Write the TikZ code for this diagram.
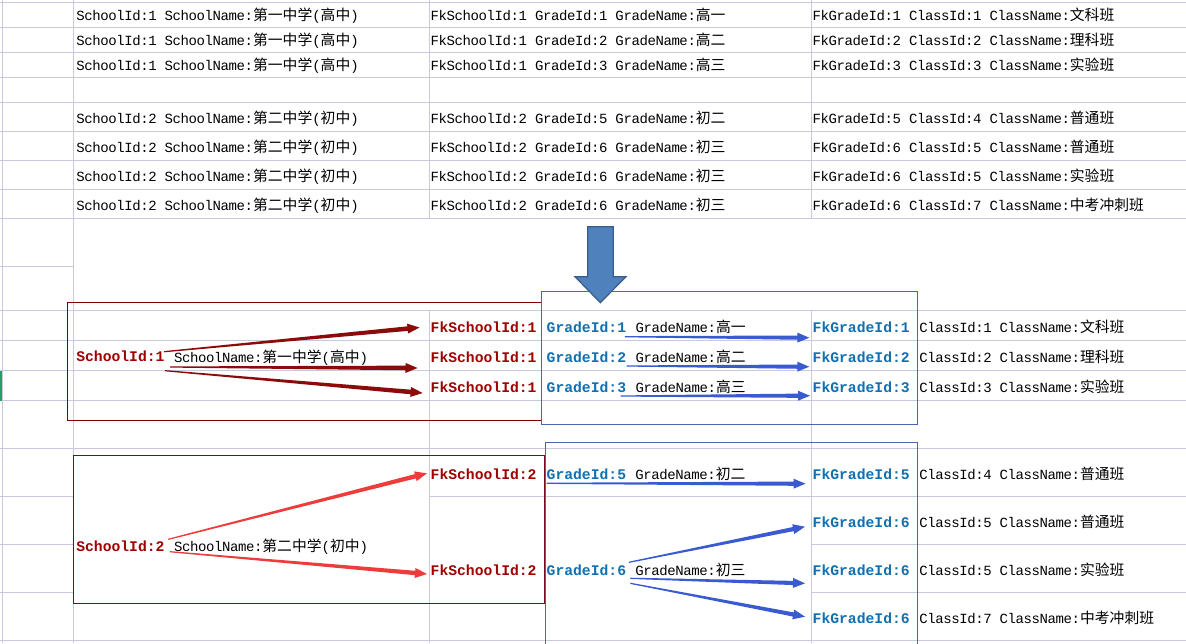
\documentclass[tikz,border=0pt]{standalone}
\usepackage{fontspec}
\usetikzlibrary{calc}
\newfontfamily\mono{Liberation Mono}[LetterSpace=-2.86]
\newfontfamily\bmono{Liberation Mono}
\newfontfamily\cjk{Noto Sans CJK SC}[Scale=1.057]
\newcommand\cn[1]{{\cjk #1}}
\definecolor{gridc}{RGB}{200,200,222}
\definecolor{idred}{HTML}{A00000}
\definecolor{idblue}{HTML}{1070B0}
\definecolor{dred}{HTML}{8B0A0A}
\definecolor{lred}{HTML}{EE3B3B}
\definecolor{arrblue}{HTML}{3A5BD0}
\definecolor{boxred}{HTML}{7A0000}
\definecolor{boxred2}{HTML}{7A0A1E}
\definecolor{boxblue}{HTML}{4A66AC}
\definecolor{bigfill}{HTML}{4F81BD}
\definecolor{bigdraw}{HTML}{385D8A}
\definecolor{selgreen}{HTML}{1FA067}
% tapered arrow: #1 colour, #2 start, #3 tip, #4 shaft half-width at head
\newcommand\tarrow[4]{%
  \fill[#1] ($(#2)!0.6pt!90:(#3)$) -- ($(#3)!12pt!(#2)!#4!-90:(#2)$) -- ($(#3)!12pt!(#2)!5pt!-90:(#2)$) -- (#3) -- ($(#3)!12pt!(#2)!5pt!90:(#2)$) -- ($(#3)!12pt!(#2)!#4!90:(#2)$) -- ($(#2)!0.6pt!-90:(#3)$) -- cycle;}
\tikzset{
  gridline/.style={draw=gridc, line width=1pt},
  txt/.style={anchor=base west, inner sep=0pt, outer sep=0pt, font={\mono\fontsize{14}{16}\selectfont}, text=black},
  rid/.style={txt, font={\bmono\bfseries\fontsize{14.7}{17}\selectfont}, text=idred, text height=10pt, text depth=0pt},
  bid/.style={rid, text=idblue},
  redbox/.style={draw=boxred, line width=1pt},
  bluebox/.style={draw=boxblue, line width=1pt},
}
\begin{document}
\begin{tikzpicture}[x=1pt,y=-1pt]
\useasboundingbox (0,0) rectangle (1186,643);
\fill[white] (0,0) rectangle (1186,643);
% ---------- grid ----------
\foreach \y in {2.7,27.3,52.3,77.3,102.7,131.3,160.3,189.3,218.3,310.7,340.7,370.7,400.7,448.3,640.7}
  \draw[gridline] (0,\y) -- (1186,\y);
\foreach \y in {266.7,496,544.3,592.7}
  \draw[gridline] (0,\y) -- (73,\y);
\draw[gridline] (429,496) -- (1186,496);
\foreach \y in {544.3,592.7}
  \draw[gridline] (811,\y) -- (1186,\y);
\draw[gridline] (2,0) -- (2,643);
\draw[gridline] (73,0) -- (73,643);
\foreach \x in {429,811}{
  \draw[gridline] (\x,0) -- (\x,218.3);
  \draw[gridline] (\x,310.7) -- (\x,643);
}
\fill[selgreen] (0,370.7) rectangle (2,400.7);
% ---------- top table ----------
\node[txt] (t1b) at (76.3,20) {SchoolId:1 SchoolName:\cn{第一中学}(\cn{高中})};
\node[txt] (t2b) at (76.3,45) {SchoolId:1 SchoolName:\cn{第一中学}(\cn{高中})};
\node[txt] (t3b) at (76.3,70) {SchoolId:1 SchoolName:\cn{第一中学}(\cn{高中})};
\node[txt] (t5b) at (76.3,123.5) {SchoolId:2 SchoolName:\cn{第二中学}(\cn{初中})};
\node[txt] (t6b) at (76.3,152) {SchoolId:2 SchoolName:\cn{第二中学}(\cn{初中})};
\node[txt] (t7b) at (76.3,181) {SchoolId:2 SchoolName:\cn{第二中学}(\cn{初中})};
\node[txt] (t8b) at (76.3,210) {SchoolId:2 SchoolName:\cn{第二中学}(\cn{初中})};
\node[txt] (t1c) at (430.7,20) {FkSchoolId:1 GradeId:1 GradeName:\cn{高一}};
\node[txt] (t2c) at (430.7,45) {FkSchoolId:1 GradeId:2 GradeName:\cn{高二}};
\node[txt] (t3c) at (430.7,70) {FkSchoolId:1 GradeId:3 GradeName:\cn{高三}};
\node[txt] (t5c) at (430.7,123.5) {FkSchoolId:2 GradeId:5 GradeName:\cn{初二}};
\node[txt] (t6c) at (430.7,152) {FkSchoolId:2 GradeId:6 GradeName:\cn{初三}};
\node[txt] (t7c) at (430.7,181) {FkSchoolId:2 GradeId:6 GradeName:\cn{初三}};
\node[txt] (t8c) at (430.7,210) {FkSchoolId:2 GradeId:6 GradeName:\cn{初三}};
\node[txt] (t1d) at (812.7,20) {FkGradeId:1 ClassId:1 ClassName:\cn{文科班}};
\node[txt] (t2d) at (812.7,45) {FkGradeId:2 ClassId:2 ClassName:\cn{理科班}};
\node[txt] (t3d) at (812.7,70) {FkGradeId:3 ClassId:3 ClassName:\cn{实验班}};
\node[txt] (t5d) at (812.7,123.5) {FkGradeId:5 ClassId:4 ClassName:\cn{普通班}};
\node[txt] (t6d) at (812.7,152) {FkGradeId:6 ClassId:5 ClassName:\cn{普通班}};
\node[txt] (t7d) at (812.7,181) {FkGradeId:6 ClassId:5 ClassName:\cn{实验班}};
\node[txt] (t8d) at (812.7,210) {FkGradeId:6 ClassId:7 ClassName:\cn{中考冲刺班}};
% ---------- lower part: school 1 ----------
\node[rid] (sid1) at (76.3,361.7) {SchoolId:1};
\node[txt] (sname1) at (174,362) {SchoolName:\cn{第一中学}(\cn{高中})};
\node[rid] (fks1a) at (430.7,332.3) {FkSchoolId:1};
\node[rid] (fks1b) at (430.7,362.3) {FkSchoolId:1};
\node[rid] (fks1c) at (430.7,392.3) {FkSchoolId:1};
\node[bid] (gid1) at (546.7,332.3) {GradeId:1};
\node[bid] (gid2) at (546.7,362.3) {GradeId:2};
\node[bid] (gid3) at (546.7,392.3) {GradeId:3};
\node[txt] (gn1) at (635.7,332.3) {GradeName:\cn{高一}};
\node[txt] (gn2) at (635.7,362.3) {GradeName:\cn{高二}};
\node[txt] (gn3) at (635.7,392.3) {GradeName:\cn{高三}};
\node[bid] (fkg1) at (812.7,332.3) {FkGradeId:1};
\node[bid] (fkg2) at (812.7,362.3) {FkGradeId:2};
\node[bid] (fkg3) at (812.7,392.3) {FkGradeId:3};
\node[txt] (cl1) at (919.3,332.3) {ClassId:1 ClassName:\cn{文科班}};
\node[txt] (cl2) at (919.3,362.3) {ClassId:2 ClassName:\cn{理科班}};
\node[txt] (cl3) at (919.3,392.3) {ClassId:3 ClassName:\cn{实验班}};
% ---------- lower part: school 2 ----------
\node[rid] (sid2) at (76.3,551.7) {SchoolId:2};
\node[txt] (sname2) at (174,551.7) {SchoolName:\cn{第二中学}(\cn{初中})};
\node[rid] (fks2a) at (430.7,479.3) {FkSchoolId:2};
\node[rid] (fks2b) at (430.7,575.7) {FkSchoolId:2};
\node[bid] (gid5) at (546.7,479.3) {GradeId:5};
\node[bid] (gid6) at (546.7,575.7) {GradeId:6};
\node[txt] (gn5) at (635.4,479.3) {GradeName:\cn{初二}};
\node[txt] (gn6) at (635.4,575.7) {GradeName:\cn{初三}};
\node[bid] (fkg5) at (812.7,479.3) {FkGradeId:5};
\node[bid] (fkg6a) at (812.7,527.3) {FkGradeId:6};
\node[bid] (fkg6b) at (812.7,575.7) {FkGradeId:6};
\node[bid] (fkg6c) at (812.7,623.3) {FkGradeId:6};
\node[txt] (cl4) at (919.3,479.3) {ClassId:4 ClassName:\cn{普通班}};
\node[txt] (cl5) at (919.3,527.3) {ClassId:5 ClassName:\cn{普通班}};
\node[txt] (cl6) at (919.3,575.7) {ClassId:5 ClassName:\cn{实验班}};
\node[txt] (cl7) at (919.3,623.3) {ClassId:7 ClassName:\cn{中考冲刺班}};
% ---------- frames ----------
\draw[redbox] (67.3,302.3) rectangle (541.7,420.3);
\draw[bluebox] (541.7,291.5) rectangle (917.3,424);
\draw[draw=boxred2, line width=1pt] (73.3,455.3) rectangle (544.3,603.3);
\draw[bluebox] (545.7,650) -- (545.7,442.3) -- (917.3,442.3) -- (917.3,650);
% ---------- big down arrow ----------
\filldraw[fill=bigfill, draw=bigdraw, line width=1.2pt, line join=miter]
  (587.7,226.7) -- (613.3,226.7) -- (613.3,276.7) -- (626,276.7) -- (600.3,302.7) -- (575,276.7) -- (587.7,276.7) -- cycle;
% ---------- connectors ----------
\tarrow{dred}{[shift={(-0.5,0)}]sid1.north east}{[shift={(-11.2,0.2)}]fks1a.west}{2.3pt}
\tarrow{dred}{[shift={(5.5,5.3)}]sid1.south east}{[shift={(-13.2,10.7)}]fks1b.west}{2.3pt}
\tarrow{dred}{[shift={(0.5,9)}]sid1.south east}{[shift={(-8.1,5.7)}]fks1c.west}{2.3pt}
\tarrow{lred}{[shift={(3.7,-2.4)}]sid2.north east}{[shift={(-3.7,-1)}]fks2a.west}{2.2pt}
\tarrow{lred}{[shift={(5.4,0)}]sid2.south east}{[shift={(-3.7,3.3)}]fks2b.west}{2.2pt}
\tarrow{arrblue}{[shift={(-1.2,4.4)}]gid1.south east}{[shift={(-3.4,10.4)}]fkg1.west}{2.1pt}
\tarrow{arrblue}{[shift={(0.5,3.7)}]gid2.south east}{[shift={(-3.4,9.4)}]fkg2.west}{2.1pt}
\tarrow{arrblue}{[shift={(-5.5,3.7)}]gid3.south east}{[shift={(-2.7,8.4)}]fkg3.west}{2.1pt}
\tarrow{arrblue}{[shift={(0,4)}]gid5.south west}{[shift={(-7.2,9.4)}]fkg5.west}{2.1pt}
\tarrow{arrblue}{[shift={(2.8,-3.4)}]gid6.north east}{[shift={(-7.7,4.4)}]fkg6a.west}{2.1pt}
\tarrow{arrblue}{[shift={(4.2,2.6)}]gid6.south east}{[shift={(-7.7,12.6)}]fkg6b.west}{2.1pt}
\tarrow{arrblue}{[shift={(4.2,7.6)}]gid6.south east}{[shift={(-7.7,-1.6)}]fkg6c.west}{2.1pt}
\end{tikzpicture}
\end{document}
